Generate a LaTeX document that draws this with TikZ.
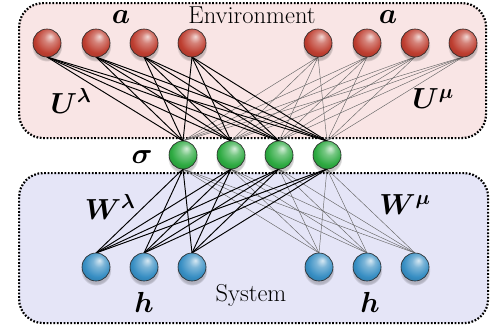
\RequirePackage{fix-cm}
\documentclass[tikz,border=0pt]{standalone}
\usepackage{bm}
\usetikzlibrary{shadows}
\definecolor{envfill}{RGB}{249,229,229}
\definecolor{sysfill}{RGB}{229,229,247}
\definecolor{redball}{RGB}{190,62,48}
\definecolor{greenball}{RGB}{45,170,65}
\definecolor{blueball}{RGB}{55,142,195}
\makeatletter
\pgfdeclareradialshading[tikz@ball]{softball}{\pgfqpoint{6bp}{12bp}}{%
  color(0bp)=(tikz@ball!20!white);
  color(10bp)=(tikz@ball!65!white);
  color(24bp)=(tikz@ball);
  color(36bp)=(tikz@ball!80!black);
  color(50bp)=(tikz@ball!55!black)}
\makeatother
\tikzset{
  ball/.style={circle, minimum size=28pt, inner sep=0pt, draw=black!85, line width=0.6pt,
     circular drop shadow={shadow xshift=0pt, shadow yshift=-3pt, opacity=0.22, fill=black}},
  envnode/.style={ball, ball color=redball, shading=softball},
  signode/.style={ball, ball color=greenball, shading=softball},
  sysnode/.style={ball, ball color=blueball, shading=softball},
  region/.style={rounded corners=24pt, dash pattern=on 1.7pt off 1.7pt, line width=2.2pt, draw=black},
  strong/.style={black, line width=0.95pt},
  weak/.style={black!60, line width=0.45pt},
  lbl/.style={font=\fontsize{29}{32}\selectfont, inner sep=0pt},
  txt/.style={font=\fontsize{24.5}{27}\selectfont, inner sep=0pt},
}
\begin{document}
\begin{tikzpicture}[x=1pt, y=-1pt]
\useasboundingbox (0,0) rectangle (490,332);
% regions
\node[region, fill=envfill, minimum width=467pt, minimum height=135pt, anchor=north west, inner sep=0pt, rectangle] (env) at (18,2) {};
\node[region, fill=sysfill, minimum width=469pt, minimum height=150pt, anchor=north west, inner sep=0pt, rectangle] (sys) at (18,172) {};
\node[txt] (envlabel) at (252,15) {Environment};
\node[txt] (syslabel) at (251,295) {System};
% coordinates for nodes
\foreach \i/\x in {1/47,2/96,3/144,4/192,5/318,6/367,7/415,8/463}
  \coordinate (pr\i) at (\x,43);
\foreach \i/\x in {1/183,2/231,3/279,4/327}
  \coordinate (pg\i) at (\x,155);
\foreach \i/\x in {1/96,2/144,3/192,4/319,5/367,6/415}
  \coordinate (pb\i) at (\x,267);
% weak connections first
\foreach \i in {5,...,8}
  \foreach \j in {1,...,4}
    \draw[weak] ([yshift=-14pt]pr\i) -- ([yshift=14pt]pg\j);
\foreach \i in {4,...,6}
  \foreach \j in {1,...,4}
    \draw[weak] ([yshift=14pt]pb\i) -- ([yshift=-14pt]pg\j);
\foreach \i in {1,...,4}
  \foreach \j in {1,...,4}
    \draw[strong] ([yshift=-14pt]pr\i) -- ([yshift=14pt]pg\j);
\foreach \i in {1,...,3}
  \foreach \j in {1,...,4}
    \draw[strong] ([yshift=14pt]pb\i) -- ([yshift=-14pt]pg\j);
% nodes
\foreach \i in {1,...,8}
  \node[envnode] (r\i) at (pr\i) {};
\foreach \i in {1,...,4}
  \node[signode] (g\i) at (pg\i) {};
\foreach \i in {1,...,6}
  \node[sysnode] (b\i) at (pb\i) {};
% labels
\node[lbl] (a1) at (121,17) {$\bm{a}$};
\node[lbl] (a2) at (388,17) {$\bm{a}$};
\node[lbl] (ul) at (71,101) {$\bm{U^{\lambda}}$};
\node[lbl] (um) at (433,99) {$\bm{U^{\mu}}$};
\node[lbl] (sg) at (142,157) {$\bm{\sigma}$};
\node[lbl] (wl) at (110,207) {$\bm{W^{\lambda}}$};
\node[lbl] (wm) at (405,205) {$\bm{W^{\mu}}$};
\node[lbl] (h1) at (144,302) {$\bm{h}$};
\node[lbl] (h2) at (370,302) {$\bm{h}$};
\end{tikzpicture}
\end{document}
